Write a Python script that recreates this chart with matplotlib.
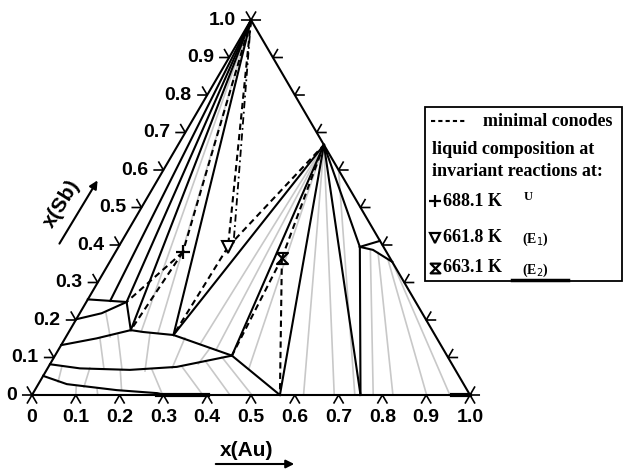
import numpy as np
import matplotlib.pyplot as plt
from matplotlib.path import Path
from matplotlib.patches import Rectangle

# compositions are given as (x(Au), x(Sb))
H = np.sqrt(3) / 2

sb_corner = (0.0, 1.0)
ausb2 = (0.333, 0.667)
bin_1 = (0.566, 0.0)
bin_2 = (0.750, 0.0)
p_q1 = (0.092, 0.248)
p_q1b = (0.053, 0.251)
p_q2 = (0.139, 0.173)
p_q3 = (0.243, 0.160)
p_q4 = (0.404, 0.105)
p_r1 = (0.551, 0.395)

liq_U = (0.154, 0.381)      # 688.1 K
liq_E1 = (0.250, 0.395)     # 661.8 K
liq_E2 = (0.388, 0.365)     # 663.1 K

solid_lines = [
    [sb_corner, p_q1b], [sb_corner, p_q1], [sb_corner, p_q2], [sb_corner, p_q3],
    [(0.0, 0.255), p_q1b, p_q1],
    [(0.0, 0.202), (0.050, 0.218), p_q1],
    [p_q1, p_q2],
    [(0.0, 0.133), (0.072, 0.151), p_q2, (0.170, 0.168), p_q3, (0.316, 0.135), p_q4, bin_1],
    [(0.0, 0.082), (0.074, 0.071), (0.190, 0.067), (0.293, 0.075), p_q4],
    [(0.0, 0.051), (0.065, 0.029), (0.187, 0.013), (0.283, 0.005), (0.304, 0.0)],
    [p_q3, ausb2], [p_q4, ausb2], [bin_1, ausb2], [bin_2, ausb2], [p_r1, ausb2],
    [p_r1, bin_2],
    [p_r1, (0.589, 0.411)],
    [p_r1, (0.585, 0.387), (0.645, 0.355)],
]

thick_segments = [[(0.285, 0.0), (0.402, 0.0)], [(0.960, 0.0), (1.0, 0.0)]]

# minimal conodes
dashed_lines = [
    [sb_corner, liq_U], [liq_U, p_q1], [liq_U, p_q2],
    [sb_corner, liq_E1], [liq_E1, p_q3], [liq_E1, ausb2],
    [liq_E2, ausb2], [liq_E2, p_q4], [liq_E2, bin_1],
]
dashdot_lines = [[sb_corner, (0.262, 0.395)]]

tie_lines = [
    [(0.079, 0.152), (0.128, 0.072)], [(0.116, 0.160), (0.172, 0.067)],
    [(0.187, 0.165), (0.226, 0.064)], [(0.273, 0.152), (0.284, 0.072)],
    [(0.344, 0.125), (0.338, 0.083)], [(0.030, 0.077), (0.042, 0.035)],
    [(0.096, 0.072), (0.108, 0.021)], [(0.168, 0.067), (0.198, 0.013)],
    [(0.239, 0.069), (0.294, 0.005)], [(0.303, 0.077), (0.390, 0.0)],
    [(0.350, 0.091), (0.452, 0.0)], [(0.383, 0.101), (0.502, 0.0)],
    [(0.058, 0.221), (0.101, 0.155)],
    [sb_corner, (0.165, 0.168)], [sb_corner, (0.205, 0.165)],
    [ausb2, (0.316, 0.135)], [ausb2, (0.360, 0.120)], [ausb2, (0.460, 0.070)],
    [ausb2, (0.620, 0.0)], [ausb2, (0.690, 0.0)],
    [(0.737, 0.0), (0.400, 0.600)], [(0.779, 0.0), (0.580, 0.385)],
    [(0.824, 0.0), (0.600, 0.380)], [(0.901, 0.0), (0.633, 0.360)],
    [(0.954, 0.0), (0.645, 0.355)],
    [(0.090, 0.022), (0.100, 0.0)], [(0.140, 0.017), (0.150, 0.0)],
]

tick_vals = [0.0, 0.1, 0.2, 0.3, 0.4, 0.5, 0.6, 0.7, 0.8, 0.9, 1.0]
tick_labels = ['0', '0.1', '0.2', '0.3', '0.4', '0.5', '0.6', '0.7', '0.8', '0.9', '1.0']


def xy(pts):
    pts = np.asarray(pts, dtype=float)
    return pts[:, 0] + pts[:, 1] / 2, pts[:, 1] * H


fig = plt.figure(figsize=(6.24, 4.72), dpi=100)
ax = fig.add_axes([0, 0, 1, 1])
ax.set_xlim(-32 / 438, 592 / 438)
ax.set_ylim(-77 / 433, 395 / 433)
ax.axis('off')

for seg in tie_lines:
    ax.plot(*xy(seg), color='#c8c8c8', lw=1.2, zorder=1)

# triangle frame
ax.plot(*xy([(0, 0), (1, 0), (0, 1), (0, 0)]), color='k', lw=1.5, zorder=3)

for seg in solid_lines:
    ax.plot(*xy(seg), color='k', lw=1.5, zorder=3)
for seg in thick_segments:
    ax.plot(*xy(seg), color='k', lw=3, zorder=3)
for seg in dashed_lines:
    ax.plot(*xy(seg), color='k', lw=1.5, ls=(0, (3, 2)), zorder=3)
for seg in dashdot_lines:
    ax.plot(*xy(seg), color='k', lw=1.3, ls=(0, (4, 2, 1, 2)), zorder=3)

hourglass = Path([(-1, 1), (1, 1), (-1, -1), (1, -1), (-1, 1)], closed=True)
ax.plot(*xy([liq_U]), marker='+', ms=10, mew=1.6, color='k', zorder=5)
ax.plot(*xy([liq_E1]), marker='v', ms=8, mfc='white', mec='k', mew=1.5, zorder=5)
ax.plot(*xy([liq_E2]), marker=hourglass, ms=8, mfc='none', mec='k', mew=1.5, zorder=5)

# caret-style ticks on the three edges
L = 0.021
c60, s60 = np.cos(np.pi / 3), np.sin(np.pi / 3)
for t, lab in zip(tick_vals, tick_labels):
    bx, by = xy([(t, 0.0)])
    ax.plot([bx[0] - L * c60, bx[0], bx[0] + L * c60], [-L * s60, 0, -L * s60],
            color='k', lw=1.2, zorder=4)
    ax.text(bx[0], -0.053, lab, ha='center', va='center', fontsize=14,
            fontweight='bold', family='Liberation Sans')

    lx, ly = xy([(0.0, t)])
    ax.plot([lx[0] - L, lx[0], lx[0] - L * c60], [ly[0], ly[0], ly[0] + L * s60],
            color='k', lw=1.2, zorder=4)
    ax.text(lx[0] - 0.035, ly[0], lab, ha='right', va='center', fontsize=14,
            fontweight='bold', family='Liberation Sans')

    rx, ry = xy([(1.0 - t, t)])
    ax.plot([rx[0] + L, rx[0], rx[0] + L * c60], [ry[0], ry[0], ry[0] + L * s60],
            color='k', lw=1.2, zorder=4)

# annotations and legend box in pixel space
ov = fig.add_axes([0, 0, 1, 1], facecolor='none')
ov.set_xlim(0, 624)
ov.set_ylim(472, 0)
ov.axis('off')

ov.text(247, 450, 'x(Au)', ha='center', va='center', fontsize=15,
        fontweight='bold', family='Liberation Sans')
ov.annotate('', xy=(297, 464), xytext=(213, 464),
            arrowprops=dict(arrowstyle='-|>', lw=1.5, color='k', mutation_scale=12))
ov.text(62, 204, 'x(Sb)', ha='center', va='center', fontsize=15, rotation=58,
        fontweight='bold', family='Liberation Sans')
ov.annotate('', xy=(99, 178), xytext=(58, 246),
            arrowprops=dict(arrowstyle='-|>', lw=1.5, color='k', mutation_scale=12))

ov.add_patch(Rectangle((425, 107), 197, 174, fill=False, ec='k', lw=1.3))
ov.plot([512, 568], [280, 280], color='k', lw=2.5)

serif = dict(family='Liberation Serif', fontweight='bold', va='center')
ov.plot([431, 467], [121, 121], color='k', lw=1.5, ls=(0, (2, 1.5)))
ov.text(483, 121, 'minimal conodes', fontsize=13, **serif)
ov.text(432, 149, 'liquid composition at', fontsize=13, **serif)
ov.text(432, 172, 'invariant reactions at:', fontsize=13, **serif)

ov.plot(435, 201, marker='+', ms=8, mew=1.6, color='k')
ov.text(443, 201, '688.1 K', fontsize=13, **serif)
ov.text(524, 197, 'U', fontsize=9, **serif)
ov.plot(435, 238, marker='v', ms=7, mfc='white', mec='k', mew=1.6)
ov.text(443, 238, '661.8 K', fontsize=13, **serif)
ov.text(522, 239, '(E$_1$)', fontsize=10, **serif)
ov.plot(435, 268, marker=hourglass, ms=7, mfc='none', mec='k', mew=1.6)
ov.text(443, 268, '663.1 K', fontsize=13, **serif)
ov.text(522, 270, '(E$_2$)', fontsize=10, **serif)

fig.savefig('out.png', dpi=100)
